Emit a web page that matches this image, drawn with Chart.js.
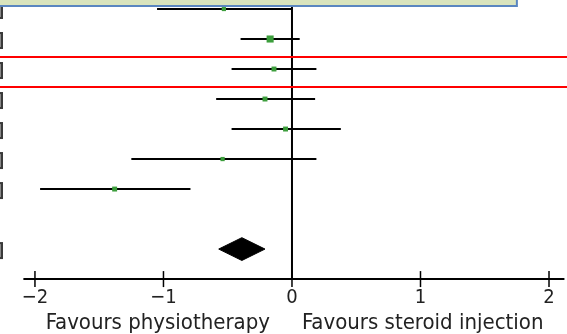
<!DOCTYPE html>
<html>
<head>
<meta charset="utf-8">
<script src="https://cdn.jsdelivr.net/npm/chart.js@4"></script>
<style>
  html, body { margin: 0; padding: 0; background: #fff; }
  #forest { display: block; }
</style>
</head>
<body>
<canvas id="forest" width="567" height="334"></canvas>
<script>
// study rows (top to bottom), effect sizes and 95% CI
var rows = [0, 1, 2, 3, 4, 5, 6];
var estimates = [-0.53, -0.17, -0.14, -0.21, -0.05, -0.54, -1.38];
var lowerCI = [-1.05, -0.40, -0.47, -0.59, -0.47, -1.25, -1.96];
var upperCI = [0.00, 0.06, 0.19, 0.18, 0.38, 0.19, -0.79];

// pooled estimate (diamond)
var pooledRow = 8;
var pooledEstimate = -0.39;
var pooledLower = -0.57;
var pooledUpper = -0.21;

// highlighted band between rows
var highlightRows = [1.6, 2.6];

var tickValues = [-2, -1, 0, 1, 2];
var tickLabels = ['\u22122', '\u22121', '0', '1', '2'];
var leftLabel = 'Favours physiotherapy';
var rightLabel = 'Favours steroid injection';

var axisRow = 9;
var xMin = -2.272, xMax = 2.14;

// build datasets
var ciData = [];
rows.forEach(function (r, i) {
    ciData.push({ x: lowerCI[i], y: r }, { x: upperCI[i], y: r }, { x: NaN, y: NaN });
});
var pointData = rows.map(function (r, i) { return { x: estimates[i], y: r }; });
var diamondData = [
    { x: pooledLower, y: pooledRow },
    { x: pooledEstimate, y: pooledRow - 0.38 },
    { x: pooledUpper, y: pooledRow },
    { x: pooledEstimate, y: pooledRow + 0.38 },
    { x: pooledLower, y: pooledRow }
];
var redData = [];
highlightRows.forEach(function (h) {
    redData.push({ x: xMin, y: h }, { x: xMax, y: h }, { x: NaN, y: NaN });
});
var tickData = tickValues.map(function (t) { return { x: t, y: axisRow }; });

// extra drawing: header box, row brackets, tick and direction labels
var forestDecor = {
    id: 'forestDecor',
    afterDatasetsDraw: function (chart) {
        var c = chart.ctx, xs = chart.scales.x, ys = chart.scales.y;
        c.save();
        // row markers cut off at the left edge
        rows.concat([pooledRow]).forEach(function (r) {
            var py = ys.getPixelForValue(r);
            c.fillStyle = '#3a3a3a';
            c.fillRect(0, py - 7, 3, 17);
            c.fillStyle = '#8a8a8a';
            c.fillRect(0, py - 5, 1, 13);
        });
        // clipped callout box at the top
        var bx = xs.getPixelForValue(1.75);
        c.fillStyle = '#d9e4bd';
        c.fillRect(0, 0, bx, 6);
        c.strokeStyle = '#5a86c0';
        c.lineWidth = 2;
        c.beginPath();
        c.moveTo(0, 6);
        c.lineTo(bx, 6);
        c.lineTo(bx, -2);
        c.stroke();
        // tick labels
        var ay = ys.getPixelForValue(axisRow);
        c.fillStyle = '#222';
        c.font = '20px "DejaVu Sans Condensed"';
        c.textAlign = 'center';
        c.textBaseline = 'middle';
        tickValues.forEach(function (t, i) {
            c.fillText(tickLabels[i], xs.getPixelForValue(t), ay + 19);
        });
        // direction labels
        var zx = xs.getPixelForValue(0);
        c.font = '22px "DejaVu Sans Condensed"';
        c.textAlign = 'right';
        c.fillText(leftLabel, zx - 22, ay + 44);
        c.textAlign = 'left';
        c.fillText(rightLabel, zx + 10, ay + 44);
        c.restore();
    }
};

var ctx = document.getElementById('forest').getContext('2d');
var forestChart = new Chart(ctx, {
    type: 'scatter',
    data: {
        datasets: [
            {
                label: 'highlight',
                data: redData,
                showLine: true,
                borderColor: '#ff0000',
                borderWidth: 2,
                pointRadius: 0,
                order: 0
            },
            {
                label: 'estimates',
                data: pointData,
                pointStyle: 'rect',
                pointRadius: [3, 5, 3.5, 3.5, 3.5, 3, 3.5],
                backgroundColor: '#3c9e3c',
                borderColor: '#3c9e3c',
                borderWidth: 0,
                order: 1
            },
            {
                label: 'ci',
                data: ciData,
                showLine: true,
                borderColor: '#000',
                borderWidth: 2,
                pointRadius: 0,
                order: 2
            },
            {
                label: 'pooled',
                data: diamondData,
                showLine: true,
                fill: 'shape',
                backgroundColor: '#000',
                borderColor: '#000',
                borderWidth: 1,
                pointRadius: 0,
                order: 3
            },
            {
                label: 'zero',
                data: [{ x: 0, y: -0.4 }, { x: 0, y: axisRow }],
                showLine: true,
                borderColor: '#000',
                borderWidth: 2,
                pointRadius: 0,
                order: 4
            },
            {
                label: 'axis',
                data: [{ x: -2.09, y: axisRow }, { x: 2.12, y: axisRow }],
                showLine: true,
                borderColor: '#000',
                borderWidth: 2,
                pointRadius: 0,
                order: 5
            },
            {
                label: 'ticks',
                data: tickData,
                pointStyle: 'line',
                rotation: 90,
                pointRadius: 8,
                borderColor: '#000',
                borderWidth: 1.5,
                order: 6
            }
        ]
    },
    options: {
        responsive: false,
        animation: false,
        layout: { padding: 0, autoPadding: false },
        plugins: {
            legend: { display: false },
            tooltip: { enabled: false }
        },
        scales: {
            x: { type: 'linear', min: xMin, max: xMax, display: false },
            y: { type: 'linear', min: -0.3, max: 10.83, reverse: true, display: false }
        }
    },
    plugins: [forestDecor]
});
</script>
</body>
</html>
